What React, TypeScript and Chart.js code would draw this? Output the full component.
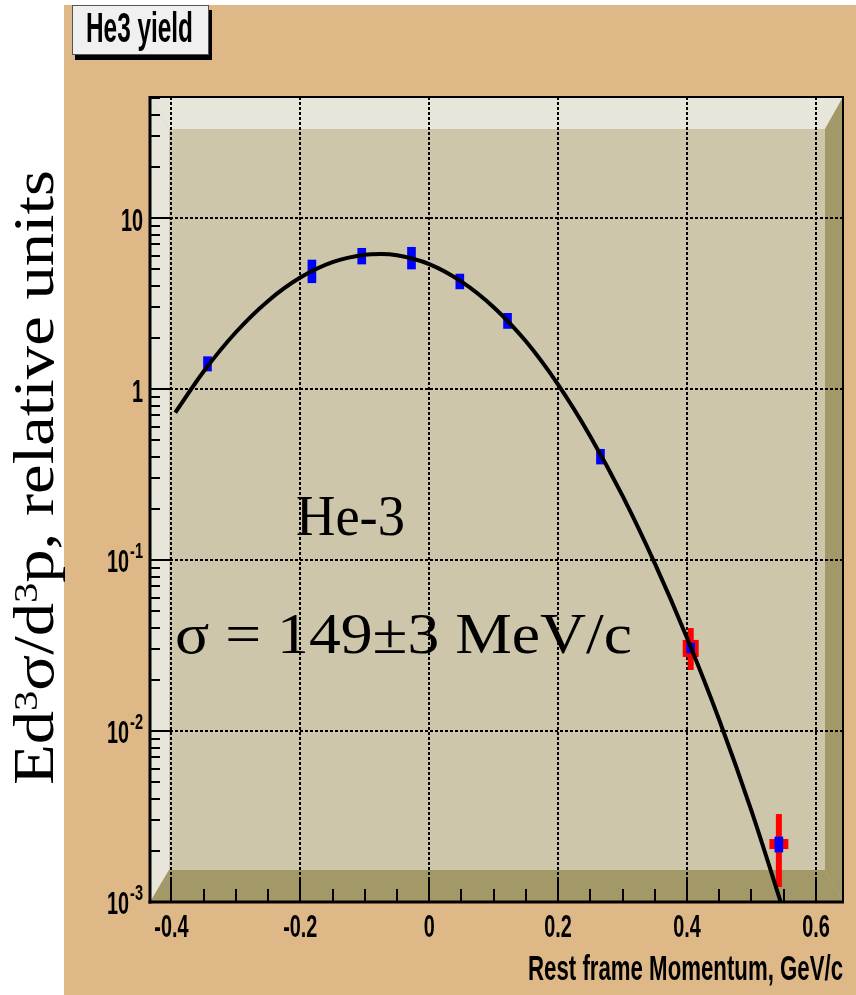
import React, { useEffect, useRef } from 'react';
import { Chart, registerables } from 'chart.js';

Chart.register(...registerables);

// ---------- data ----------
const pointX = [-0.344, -0.182, -0.1047, -0.0275, 0.0475, 0.1215, 0.2657, 0.4057, 0.5425];
const blueLo = [1.274, 4.18, 5.38, 5.03, 3.85, 2.26, 0.364, 0.02858, 0.00196];
const blueHi = [1.545, 5.68, 6.65, 6.74, 4.7, 2.77, 0.444, 0.0327, 0.0024];

const redX = [0.4057, 0.5425];
const redLo = [0.02274, 0.001224];
const redHi = [0.04, 0.00327];
const redXErr = [0.0124, 0.0147];
const redBoxLo = [0.0271, 0.00204];
const redBoxHi = [0.0341, 0.002335];

const fitX = [-0.394, -0.35, -0.3, -0.25, -0.2, -0.15, -0.1, -0.075, -0.05, 0, 0.05, 0.1, 0.15, 0.2, 0.25, 0.3, 0.35, 0.4, 0.45, 0.5, 0.55];
const fitY = [0.727, 1.265, 2.147, 3.273, 4.483, 5.518, 6.103, 6.165, 6.06, 5.38, 4.25, 3.01, 1.9, 1.06, 0.528, 0.237, 0.0955, 0.035, 0.0116, 0.00341, 0.000881];

const xTicks = [-0.4, -0.2, 0, 0.2, 0.4, 0.6];
const xTickLabels = ['-0.4', '-0.2', '0', '0.2', '0.4', '0.6'];
const xMinorTicks = [-0.35, -0.3, -0.25, -0.15, -0.1, -0.05, 0.05, 0.1, 0.15, 0.25, 0.3, 0.35, 0.45, 0.5, 0.55];
const yTicks = [0.001, 0.01, 0.1, 1, 10];
const yTickBase = ['10', '10', '10', '1', '10'];
const yTickExp = ['-3', '-2', '-1', '', ''];

const X_MIN = -0.4332;
const X_MAX = 0.642;
const Y_MIN = 0.001;
const Y_MAX = 51;

const titleText = 'He3 yield';
const xAxisTitle = 'Rest frame Momentum, GeV/c';
const yAxisTitleParts = [
  { t: 'Ed', sup: false },
  { t: '3', sup: true },
  { t: 'σ/d', sup: false },
  { t: '3', sup: true },
  { t: 'p, relative units', sup: false },
];
const label1 = 'He-3';
const label2 = 'σ = 149±3 MeV/c';

// ---------- styles ----------
const TAN = '#deb887';
const PANEL = '#cdc6aa';
const LIGHT = '#e8e6db';
const DARK = '#a39867';
const SANS = '"Liberation Sans", Arial, Helvetica, sans-serif';
const SERIF = '"Liberation Serif", "Times New Roman", serif';
const SX = 0.62;

function drawScaled(ctx: CanvasRenderingContext2D, text: string, x: number, y: number, font: string, sx: number, align: 'left' | 'right' | 'center') {
  ctx.save();
  ctx.font = font;
  ctx.textBaseline = 'alphabetic';
  ctx.textAlign = 'left';
  const w = ctx.measureText(text).width * sx;
  const left = align === 'left' ? x : align === 'right' ? x - w : x - w / 2;
  ctx.translate(left, y);
  ctx.scale(sx, 1);
  ctx.fillText(text, 0, 0);
  ctx.restore();
  return w;
}

function drawFit(ctx: CanvasRenderingContext2D, text: string, left: number, baseline: number, font: string, targetW: number) {
  ctx.save();
  ctx.font = font;
  const w = ctx.measureText(text).width;
  ctx.restore();
  drawScaled(ctx, text, left, baseline, font, targetW / w, 'left');
}

const rootPlugin = {
  id: 'rootLook',
  beforeDraw(chart: any) {
    const { ctx, width, height } = chart;
    ctx.save();
    ctx.fillStyle = '#ffffff';
    ctx.fillRect(0, 0, width, height);
    ctx.fillStyle = TAN;
    ctx.fillRect(64, 5, width - 64, height - 5);
    ctx.restore();
  },
  beforeDatasetsDraw(chart: any) {
    const { ctx, chartArea: a, scales } = chart;
    const xs = scales.x;
    const ys = scales.y;
    const L = a.left, R = a.right, T = a.top, B = a.bottom;
    const lw = 19, rw = 18, th = 32, bh = 32;
    ctx.save();
    ctx.fillStyle = PANEL;
    ctx.fillRect(L, T, R - L, B - T);
    ctx.fillStyle = LIGHT;
    ctx.beginPath();
    ctx.moveTo(L, T); ctx.lineTo(R, T); ctx.lineTo(R - rw, T + th); ctx.lineTo(L + lw, T + th); ctx.closePath();
    ctx.fill();
    ctx.beginPath();
    ctx.moveTo(L, T); ctx.lineTo(L + lw, T + th); ctx.lineTo(L + lw, B - bh); ctx.lineTo(L, B); ctx.closePath();
    ctx.fill();
    ctx.fillStyle = DARK;
    ctx.beginPath();
    ctx.moveTo(L, B); ctx.lineTo(L + lw, B - bh); ctx.lineTo(R - rw, B - bh); ctx.lineTo(R, B); ctx.closePath();
    ctx.fill();
    ctx.beginPath();
    ctx.moveTo(R, T); ctx.lineTo(R, B); ctx.lineTo(R - rw, B - bh); ctx.lineTo(R - rw, T + th); ctx.closePath();
    ctx.fill();

    // dotted grid
    ctx.strokeStyle = '#000';
    ctx.lineWidth = 2;
    ctx.setLineDash([3, 2]);
    xTicks.forEach((v) => {
      const px = Math.round(xs.getPixelForValue(v));
      ctx.beginPath(); ctx.moveTo(px, T); ctx.lineTo(px, B); ctx.stroke();
    });
    yTicks.forEach((v) => {
      if (v <= Y_MIN) return;
      const py = Math.round(ys.getPixelForValue(v));
      ctx.beginPath(); ctx.moveTo(L, py); ctx.lineTo(R, py); ctx.stroke();
    });
    ctx.setLineDash([]);

    // red error bars
    ctx.fillStyle = '#ff0000';
    redX.forEach((v, i) => {
      const px = xs.getPixelForValue(v);
      const y1 = ys.getPixelForValue(redHi[i]);
      const y2 = ys.getPixelForValue(redLo[i]);
      ctx.fillRect(px - 3, y1, 6, y2 - y1);
      const x1 = xs.getPixelForValue(v - redXErr[i]);
      const x2 = xs.getPixelForValue(v + redXErr[i]);
      const b1 = ys.getPixelForValue(redBoxHi[i]);
      const b2 = ys.getPixelForValue(redBoxLo[i]);
      ctx.fillRect(x1, b1, x2 - x1, b2 - b1);
    });
    ctx.restore();
  },
  afterDatasetsDraw(chart: any) {
    const { ctx, chartArea: a, scales } = chart;
    const xs = scales.x;
    const ys = scales.y;
    const L = a.left, R = a.right, T = a.top, B = a.bottom;
    ctx.save();
    ctx.fillStyle = '#000';
    ctx.fillRect(L - 1, T - 1, R - L + 2, 2);
    ctx.fillRect(R - 1, T - 1, 2, B - T + 2);
    ctx.fillRect(L - 1.5, T - 1, 3, B - T + 2.5);
    ctx.fillRect(L - 1.5, B - 1.5, R - L + 2.5, 3);

    ctx.strokeStyle = '#000';
    ctx.lineWidth = 2;
    xTicks.forEach((v) => {
      const px = Math.round(xs.getPixelForValue(v));
      ctx.beginPath(); ctx.moveTo(px, B); ctx.lineTo(px, B - 25); ctx.stroke();
    });
    xMinorTicks.forEach((v) => {
      const px = Math.round(xs.getPixelForValue(v));
      ctx.beginPath(); ctx.moveTo(px, B); ctx.lineTo(px, B - 13); ctx.stroke();
    });
    yTicks.forEach((v) => {
      const py = Math.round(ys.getPixelForValue(v));
      ctx.beginPath(); ctx.moveTo(L, py); ctx.lineTo(L + 21, py); ctx.stroke();
    });
    for (let e = -3; e <= 1; e++) {
      for (let m = 2; m <= 9; m++) {
        const v = m * Math.pow(10, e);
        if (v > Y_MAX) continue;
        const py = Math.round(ys.getPixelForValue(v));
        ctx.beginPath(); ctx.moveTo(L, py); ctx.lineTo(L + 10, py); ctx.stroke();
      }
    }

    ctx.fillStyle = '#000';
    const tickFont = `bold 32px ${SANS}`;
    const expFont = `bold 22px ${SANS}`;
    xTicks.forEach((v, i) => {
      const px = xs.getPixelForValue(v);
      drawScaled(ctx, xTickLabels[i], px, B + 35, tickFont, SX, 'center');
    });
    yTicks.forEach((v, i) => {
      const py = ys.getPixelForValue(v);
      const rightX = L - 7;
      if (yTickExp[i]) {
        const ew = drawScaled(ctx, yTickExp[i], rightX, py - 2, expFont, 0.66, 'right');
        drawScaled(ctx, yTickBase[i], rightX - ew - 1, py + 12, tickFont, SX, 'right');
      } else {
        drawScaled(ctx, yTickBase[i], rightX, py + 13, tickFont, SX, 'right');
      }
    });

    drawScaled(ctx, xAxisTitle, R, 980, `bold 35px ${SANS}`, 0.635, 'right');

    {
      const mainFont = `56px ${SERIF}`;
      const supFont = `34px ${SERIF}`;
      let total = 0;
      const widths = yAxisTitleParts.map((p) => {
        ctx.font = p.sup ? supFont : mainFont;
        const w = ctx.measureText(p.t).width;
        total += w;
        return w;
      });
      const target = 615;
      const sx = target / total;
      ctx.save();
      ctx.translate(53, 477.5);
      ctx.rotate(-Math.PI / 2);
      ctx.translate(-target / 2, 0);
      ctx.scale(sx, 1);
      ctx.textBaseline = 'alphabetic';
      ctx.textAlign = 'left';
      let cx = 0;
      yAxisTitleParts.forEach((p, i) => {
        ctx.font = p.sup ? supFont : mainFont;
        ctx.fillText(p.t, cx, p.sup ? -16 : 0);
        cx += widths[i];
      });
      ctx.restore();
    }

    drawFit(ctx, label1, 296, 535, `56px ${SERIF}`, 109);
    drawFit(ctx, label2, 175, 653, `58px ${SERIF}`, 457);

    ctx.fillStyle = '#000';
    ctx.fillRect(75, 10, 137, 50);
    ctx.fillStyle = '#f0f0f0';
    ctx.fillRect(72, 5, 137, 50);
    ctx.strokeStyle = '#555';
    ctx.lineWidth = 1;
    ctx.strokeRect(72.5, 5.5, 136, 49);
    ctx.fillStyle = '#000';
    drawFit(ctx, titleText, 86, 42, `bold 42px ${SANS}`, 107);
    ctx.restore();
  },
};

export default function App() {
  const ref = useRef<HTMLCanvasElement | null>(null);
  useEffect(() => {
    const canvas = ref.current;
    if (!canvas) return;
    const chart = new Chart(canvas, {
      type: 'line',
      data: {
        datasets: [
          {
            type: 'line',
            label: 'fit',
            data: fitX.map((x, i) => ({ x, y: fitY[i] })),
            borderColor: '#000000',
            borderWidth: 4,
            pointRadius: 0,
            cubicInterpolationMode: 'monotone',
            fill: false,
            order: 0,
          } as any,
          {
            type: 'bar',
            label: 'data',
            data: pointX.map((x, i) => ({ x, y: [blueLo[i], blueHi[i]] })),
            backgroundColor: '#0000ff',
            borderWidth: 0,
            barThickness: 8,
            grouped: false,
            order: 1,
          } as any,
        ],
      },
      options: {
        responsive: false,
        animation: false,
        devicePixelRatio: 1,
        events: [],
        layout: { padding: { left: 150, top: 97, right: 13, bottom: 93 } },
        plugins: { legend: { display: false }, tooltip: { enabled: false }, title: { display: false } },
        scales: {
          x: { type: 'linear', min: X_MIN, max: X_MAX, display: false, offset: false },
          y: { type: 'logarithmic', min: Y_MIN, max: Y_MAX, display: false },
        },
      } as any,
      plugins: [rootPlugin as any],
    });
    return () => chart.destroy();
  }, []);
  return (
    <div style={{ position: 'absolute', left: 0, top: 0, width: 856, height: 995 }}>
      <canvas ref={ref} width={856} height={995} style={{ display: 'block', width: 856, height: 995 }} />
    </div>
  );
}
